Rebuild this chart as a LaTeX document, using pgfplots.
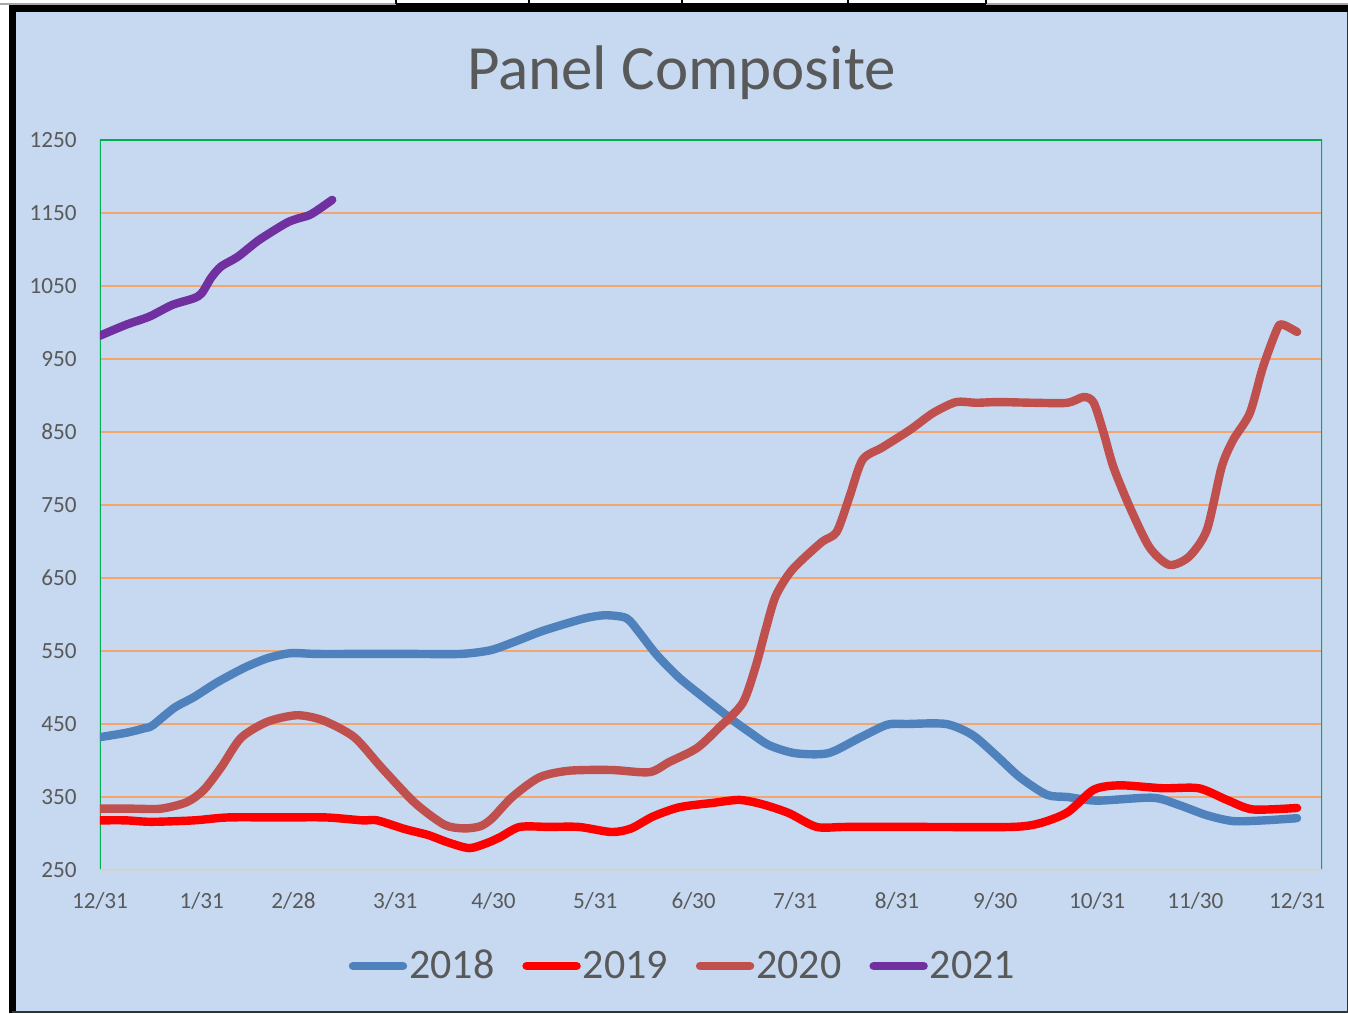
\documentclass[border=0pt]{standalone}
\usepackage{fontspec}
\setmainfont{Carlito}
\usepackage{pgfplots}
\pgfplotsset{compat=1.18}
\definecolor{bgblue}{RGB}{198,217,241}
\definecolor{textgray}{RGB}{89,89,89}
\definecolor{gridorange}{RGB}{242,165,110}
\definecolor{framegreen}{RGB}{0,176,80}
\definecolor{c2018}{RGB}{79,129,189}
\definecolor{c2019}{RGB}{255,0,0}
\definecolor{c2020}{RGB}{192,80,77}
\definecolor{c2021}{RGB}{112,48,160}
\begin{document}
\begin{tikzpicture}
\useasboundingbox (-50pt,-71.5pt) rectangle (624pt,435pt);
\fill[white] (-50pt,-71.5pt) rectangle (624pt,435pt);
\fill[bgblue] (-44pt,-71pt) rectangle (623.5pt,429pt);
% top table remnants
\draw[gray!70, line width=0.6pt] (-50pt,433pt) -- (624pt,433pt);
\draw[black, line width=0.7pt] (148pt,433pt) -- (443pt,433pt);
\foreach \X in {396,529,682,848,986} {
  \draw[black, line width=0.7pt] ({(\X-100)*0.5pt},433pt) -- ({(\X-100)*0.5pt},435pt);
}
% borders
\draw[black, line width=3.6pt] (-45.5pt,430.7pt) -- (624pt,430.7pt);
\draw[black, line width=3.3pt] (-43.85pt,432.5pt) -- (-43.85pt,-71.5pt);
\draw[black!80, line width=0.8pt] (623.7pt,429pt) -- (623.7pt,-71.5pt);
\draw[black!80, line width=1pt] (-44pt,-71pt) -- (624pt,-71pt);
\node[anchor=base, font=\fontsize{31.5}{36}\selectfont, text=textgray] at (290.75pt,390pt) {Panel Composite};
\begin{axis}[
  at={(0pt,0pt)}, anchor=south west,
  scale only axis, width=611pt, height=365pt,
  xmin=0, xmax=372.6, ymin=250, ymax=1250,
  ytick={250,350,...,1250},
  xtick={0,31,59,90,120,151,181,212,243,273,304,334,365},
  xticklabels={12/31,1/31,2/28,3/31,4/30,5/31,6/30,7/31,8/31,9/30,10/31,11/30,12/31},
  major tick length=0pt,
  axis line style={draw=none},
  ymajorgrids, grid style={color=gridorange, line width=0.7pt},
  tick label style={font=\fontsize{11.6}{14}\selectfont, text=textgray},
  /pgf/number format/assume math mode=true,
  /pgf/number format/1000 sep={},
  yticklabel style={inner sep=0pt, anchor=east, xshift=-11.5pt},
  xticklabel style={inner sep=0pt, anchor=north, yshift=-11pt},
  legend columns=4,
  legend style={at={(0.477,-0.1315)}, anchor=center, draw=none, fill=none,
    font=\fontsize{21}{25}\selectfont, text=textgray,
    /tikz/every even column/.append style={column sep=13pt},
    inner sep=0pt, nodes={inner sep=1pt}},
  legend image code/.code={\draw[#1, line width=4.2pt, line cap=round] (2pt,0pt) -- (27pt,0pt);},
  every axis plot/.append style={line width=4.2pt, line cap=round, line join=round, smooth, tension=0.45, mark=none},
]
\draw[framegreen, line width=1pt] (rel axis cs:0,0) -- (rel axis cs:0,1) -- (rel axis cs:1,1) -- (rel axis cs:1,0);
\draw[gray!35, line width=0.8pt] (rel axis cs:0,0) -- (rel axis cs:1,0);
\addplot[c2018] coordinates {
(0,432) (8,438) (13.4,444) (16,448) (22.6,472) (28.7,487) (35.7,507) (44,527) (51,540) (58,547) (66,546) (80,546) (95,546) (110,546) (119,551) (126,562) (134,576) (141,586) (148,595) (154,599) (160.5,595) (164.5,575) (169.7,545) (176.7,513) (185,483) (193,455) (198,439) (204,421) (212,410) (222,410) (231.6,431) (240,449) (246,450) (258,450) (266,435) (273,408) (280.5,377) (288.7,353) (295,350) (304,345) (321,349) (329,339) (337.5,325) (345.5,317) (355,318) (365,321)
};
\addlegendentry{2018}
\addplot[c2019] coordinates {
(0,318) (8,318) (15.6,316) (28.7,318) (39,322) (55,322) (69,322) (80,318) (84.5,318) (93,306) (100,298) (106,288) (112.6,280) (118,287) (122,295) (128,309) (137,309) (146,309) (156,302) (162,307) (168.5,323) (176.7,336) (187,342) (195,346) (202,340) (210,328) (218.5,309) (227.6,309) (250,309) (278,309) (286.5,314) (295,329) (303,360) (311,366) (324,362) (335,362) (343.6,346) (351.5,333) (365,335)
};
\addlegendentry{2019}
\addplot[c2020] coordinates {
(0,334) (10,334) (18.6,334) (26.5,343) (31.7,360) (37,391) (43,431) (51,453) (60,462) (68,455) (77.5,432) (85.7,391) (96,342) (105,312) (111,307) (116,310) (119.6,321) (125.7,350) (134,377) (143,386) (156,387) (167.5,384) (173.6,398) (182,417) (189,446) (196,479) (200,530) (203,580) (206,625) (211,661) (220,699) (224.6,713) (228.5,761) (232.5,812) (238.6,829) (247,853) (254,876) (261,891) (267,890) (274,891) (285,890) (295,890) (300,898) (303,890) (306,849) (309,802) (314,747) (320,692) (326,668) (332,679) (337.5,716) (342,802) (345.5,839) (350.6,876) (354.6,939) (359,992) (360.7,997) (365,987)
};
\addlegendentry{2020}
\addplot[c2021] coordinates {
(0,982) (8,997) (15,1008) (22,1024) (28.5,1033) (31,1040) (34,1062) (37,1077) (42,1090) (48.5,1113) (56.7,1136) (60,1142) (63.8,1147) (67,1156) (70.8,1168)
};
\addlegendentry{2021}
\end{axis}
\end{tikzpicture}
\end{document}
